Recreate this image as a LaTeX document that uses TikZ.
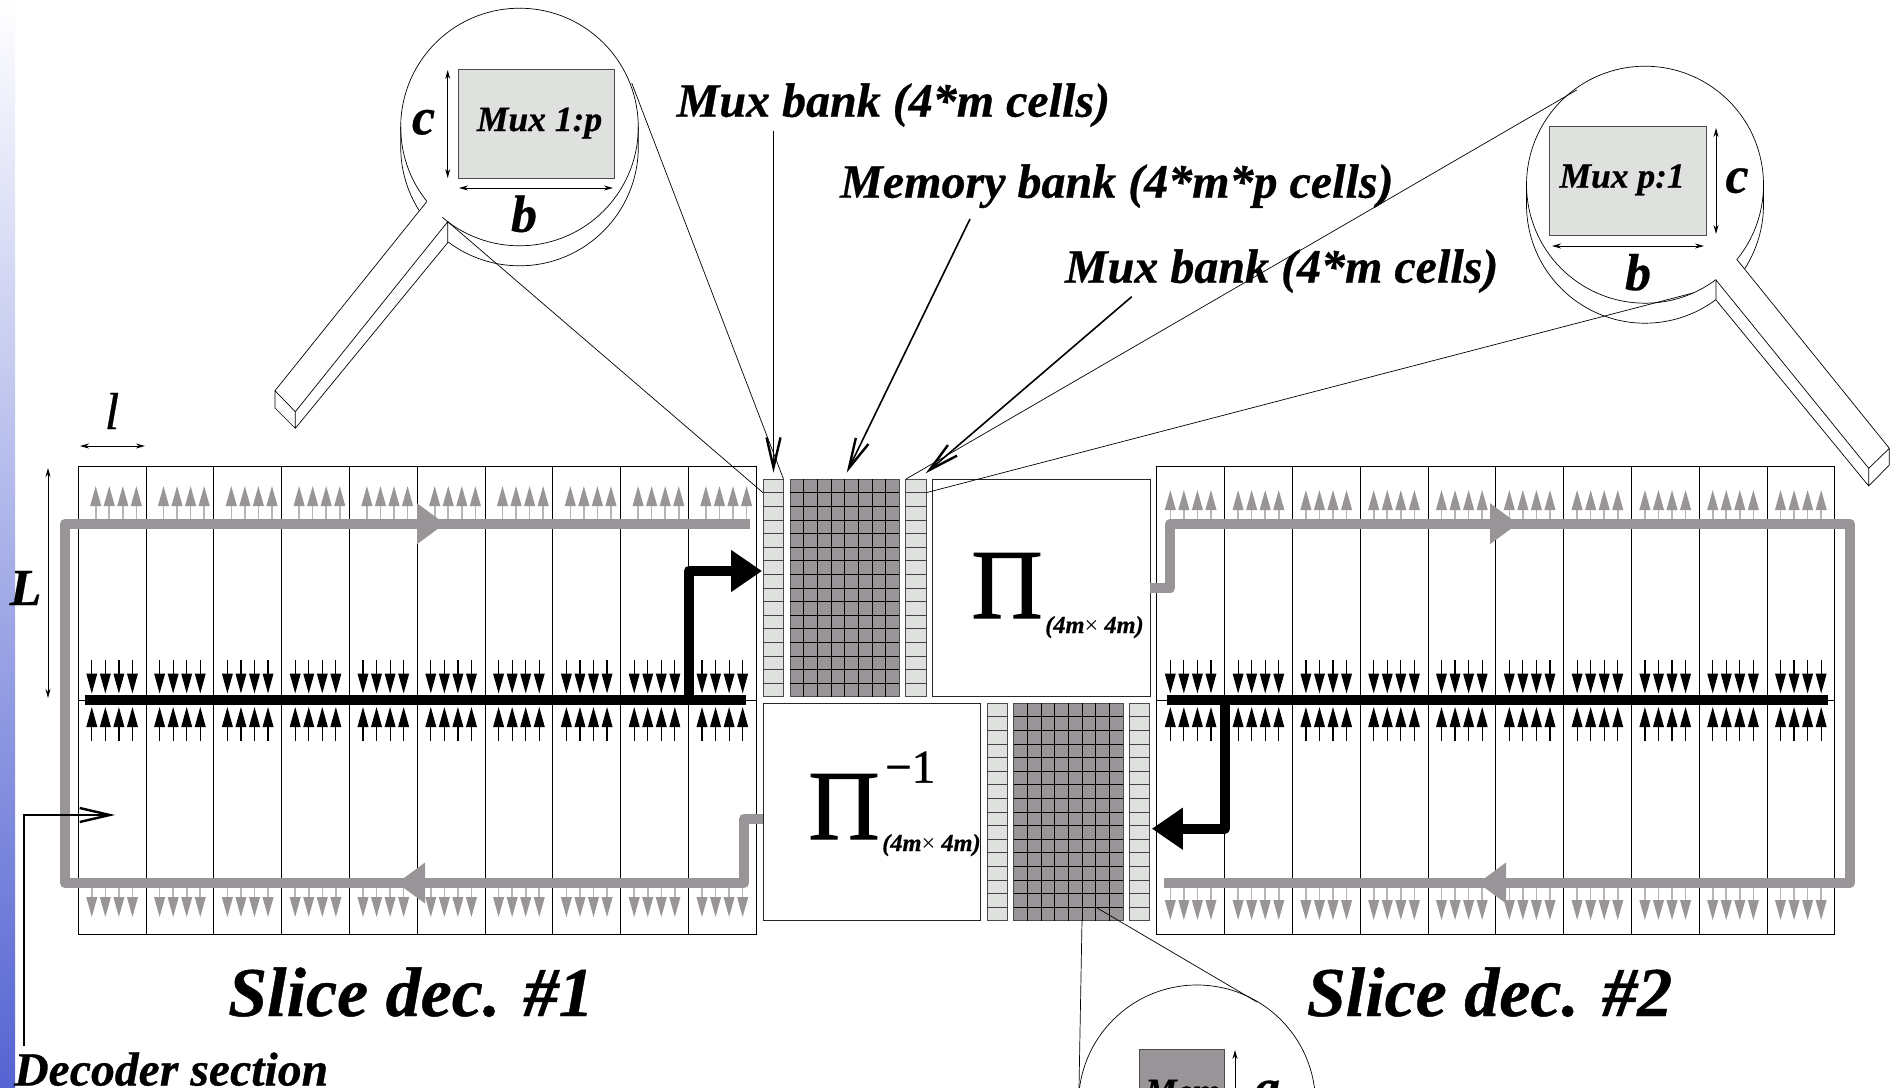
\documentclass[tikz,border=0pt]{standalone}
\usepackage{fontspec}
\setmainfont{Liberation Serif}[BoldItalicFeatures={FakeBold=0.6}]
\usetikzlibrary{arrows.meta}
\definecolor{wiregrey}{RGB}{152,148,152}
\definecolor{muxgrey}{RGB}{223,225,223}
\definecolor{stripblue}{RGB}{85,100,210}
\tikzset{
  lbl/.style       = {font=\bfseries\itshape\fontsize{#1}{#1}\selectfont,
                      inner sep=0pt, anchor=base west},
  sym/.style       = {font=\bfseries\itshape\fontsize{#1}{#1}\selectfont,
                      inner sep=0pt, anchor=base},
  plain/.style     = {font=\fontsize{#1}{#1}\selectfont\addfontfeature{FakeBold=1},
                      inner sep=0pt, anchor=base west},
  slicebox/.style  = {shape=rectangle, draw, line width=1pt, inner sep=0pt, outer sep=0pt,
                      minimum width=678pt, minimum height=468pt},
  bank/.style      = {shape=rectangle, draw=black!70, line width=1pt, inner sep=0pt, outer sep=0pt,
                      minimum height=217.5pt},
  muxbox/.style    = {bank, fill=muxgrey, minimum width=20.5pt},
  membox/.style    = {bank, fill=wiregrey, minimum width=109.3pt},
  permbox/.style   = {bank, draw=black!85, minimum width=217.5pt},
  zoombox/.style   = {shape=rectangle, draw=black!70, line width=1pt, inner sep=0pt, outer sep=0pt,
                      minimum width=156pt, minimum height=109pt},
  thin line/.style = {line width=0.7pt},
  leader/.style    = {line width=1.6pt, -{Straight Barb[length=30pt,width=14pt,line width=2.4pt]}},
  dim/.style       = {line width=1pt, {Stealth[length=9pt,width=5pt]}-{Stealth[length=9pt,width=5pt]}},
  greywire/.style  = {draw=wiregrey, line width=10pt, line join=round},
  blackwire/.style = {draw=black, line width=10pt, line join=round}
}
\begin{document}
\begin{tikzpicture}
  [
    x = 1pt,
    y = -1pt
  ]
 \useasboundingbox (0,0) rectangle (1897,1087);
 \clip (0,0) rectangle (1897,1087);
 \shade [top color=white, bottom color=stripblue] (0,0) rectangle (15,1087);

 % slices
 \node [slicebox] (sliceA) at (417.3,700) {};
 \node [slicebox] (sliceB) at (1495.8,700) {};
 \foreach \left in {78.3,1156.8}
   \foreach \cell in {1,...,9}
     \draw [line width=1pt] ({\left+\cell*67.8},466) -- ({\left+\cell*67.8},934);
 \draw [thin line] (sliceA.west) -- (sliceA.east);
 \draw [thin line] (sliceB.west) -- (sliceB.east);

 % small arrows
 \foreach \left/\shift/\top/\low in {78.3/17.4/486/917, 1156.8/13.5/490/920}
   \foreach \cell in {0,...,9}
     \foreach \k in {0,1,2,3} {
       \pgfmathsetmacro\ax{\left+\cell*67.8+13.5+\k*13.55}
       \pgfmathsetmacro\tx{\left+\cell*67.8+\shift+\k*13.55}
       \draw [wiregrey!70, line width=1.6pt, -{Triangle[length=20pt,width=10.7pt,wiregrey]}]
         (\tx,520) -- (\tx,\top);
       \draw [wiregrey!70, line width=1.6pt, -{Triangle[length=20pt,width=10.7pt,wiregrey]}]
         (\ax,888) -- (\ax,\low);
       \draw [line width=1.2pt, -{Triangle[length=20pt,width=10.7pt]}] (\ax,660) -- (\ax,693.5);
       \draw [line width=1.2pt, -{Triangle[length=20pt,width=10.7pt]}] (\ax,740.5) -- (\ax,707);
     }

 % banks
 \foreach \name/\cx/\cy in {muxA/773.3/588, muxB/915.9/588, muxC/997.3/812, muxD/1139.6/812} {
   \node [muxbox] (\name) at (\cx,\cy) {};
   \foreach \row in {1,...,15}
     \draw [line width=1pt, black!75] ({\cx-10.25},{\cy-108.75+\row*13.6}) -- ({\cx+10.25},{\cy-108.75+\row*13.6});
 }
 \foreach \name/\cx/\cy in {memA/844.7/588, memB/1068.6/812} {
   \node [membox] (\name) at (\cx,\cy) {};
   \foreach \row in {1,...,15}
     \draw [line width=0.9pt] ({\cx-54.65},{\cy-108.75+\row*13.6}) -- ({\cx+54.65},{\cy-108.75+\row*13.6});
   \foreach \col in {1,...,7}
     \draw [line width=0.9pt] ({\cx-54.65+\col*13.66},{\cy-108.75}) -- ({\cx-54.65+\col*13.66},{\cy+108.75});
 }
 \node [permbox] (perm) at (1041.5,588) {};
 \node [permbox] (permi) at (871.8,812) {};

 \node [plain=99] (pisym) at (971,618) {Π};
 \node [lbl=24.4] (pisub) at (1045,633) {(4m\textmd{\textup{×}} 4m)};
 \node [plain=99] (pisymi) at (808,839) {Π};
 \node [plain=47] (piexp) at (885,782.7) {−1};
 \node [lbl=24.4] (pisubi) at (882,851) {(4m\textmd{\textup{×}} 4m)};

 % wires
 \coordinate (greyAin) at (permi.west |- 0,818.7);
 \coordinate (greyBin) at (perm.east |- 0,588);
 \draw [greywire] (749.6,523.7) -- (65,523.7) -- (65,883) -- (744,883) -- (744,818.7) -- (greyAin);
 \draw [greywire] (greyBin) -- (1170.4,588) -- (1170.4,523.7) -- (1850,523.7) -- (1850,883) -- (1164,883);
 \foreach \from/\to/\yy in {400/445/523.7, 440/397/883, 1470/1518/523.7, 1520/1478/883}
   \draw [greywire, -{Triangle[length=28pt,width=39pt,wiregrey]}] (\from,\yy) -- (\to,\yy);
 \draw [blackwire] (85.3,700) -- (746,700);
 \draw [blackwire] (1167,700) -- (1828,700);
 \coordinate (blackAin) at (muxA.west |- 0,571);
 \coordinate (blackBin) at (muxD.east |- 0,828.7);
 \draw [blackwire, -{Triangle[length=31pt,width=40pt]}] (688.6,700) -- (688.6,571) -- ([xshift=-1pt]blackAin);
 \draw [blackwire, -{Triangle[length=31pt,width=40pt]}] (1224.6,700) -- (1224.6,828.7) -- ([xshift=2pt]blackBin);

 % left lens
 \coordinate (lensA) at (519.5,127);
 \coordinate (lensAout) at (631.7,83);
 \coordinate (lensAin) at (447.7,221.7);
 \draw [thin line] (lensA) ++(229.5:118.8pt) arc [start angle=229.5, end angle=578.8, radius=118.8pt];
 \draw [thin line] (400.7,127) -- (400.7,147) arc [start angle=180, end angle=212.2, radius=118.8pt];
 \draw [thin line] (638.3,127) -- (638.3,147) arc [start angle=360, end angle=233.1, radius=118.8pt];
 \draw [thin line] (426.7,201.7) -- (275,390.7) -- (275,408) -- (295.3,428.3) -- (447.7,242.7) -- (lensAin)
   -- (295.3,411.7) -- (275,390.7) (295.3,411.7) -- (295.3,428.3);
 \node [zoombox, fill=muxgrey] (muxzoomA) at (536.3,123.8) {};
 \node [lbl=35.5] (muxtextA) at (476.7,131) {Mux 1:p};
 \node [sym=52] (cA) at (423.5,134.3) {c};
 \node [sym=52] (bA) at (524,231.7) {b};
 \draw [dim] (447.7,70) -- (447.7,178);
 \draw [dim] (459,188) -- (613,188);

 % right lens
 \coordinate (lensB) at (1645,184.7);
 \coordinate (lensBout) at (1576.7,90);
 \coordinate (lensBin) at (1693,293);
 \draw [thin line] (lensB) ++(-39.1:118.5pt) arc [start angle=-39.1, end angle=-53.3+360, radius=118.5pt];
 \draw [thin line] (1763.5,184.7) -- (1763.5,204.7) arc [start angle=0, end angle=-32.8, radius=118.5pt];
 \draw [thin line] (1526.5,184.7) -- (1526.5,204.7) arc [start angle=180, end angle=306.7, radius=118.5pt];
 \draw [thin line] (1736.7,259.3) -- (1889.3,448.3) -- (1889.3,465) -- (1868.7,486) -- (1716,300) -- (1716,280)
   -- (1868.7,468.3) -- (1889.3,448.3) (1868.7,468.3) -- (1868.7,486);
 \node [zoombox, fill=muxgrey, minimum width=157pt] (muxzoomB) at (1627.8,181.2) {};
 \node [lbl=35.5] (muxtextB) at (1559.3,187.7) {Mux p:1};
 \node [sym=52] (cB) at (1737,192.7) {c};
 \node [sym=52] (bB) at (1638,290) {b};
 \draw [dim] (1716,128) -- (1716,234);
 \draw [dim] (1552,246) -- (1704,246);

 % bottom lens
 \coordinate (lensC) at (1197,1103.5);
 \draw [thin line] (lensC) circle [radius=118.5pt];
 \node [zoombox, fill=wiregrey, minimum width=85.3pt, minimum height=100pt] (memzoom) at (1182,1099.3) {};
 \node [lbl=35.5] (memtext) at (1145,1103) {Mem};
 \node [sym=52] (aC) at (1267,1105) {a};
 \draw [line width=1pt, {Stealth[length=9pt,width=5pt]}-] (1235,1050) -- (1235,1100);

 % zoom lines
 \coordinate (muxAcell) at (muxA.north west |- 0,492.7);
 \coordinate (muxBcell) at (muxB.north east |- 0,492.7);
 \draw [thin line] (lensAout) -- (muxA.north east);
 \draw [thin line] (lensAin) -- (muxAcell);
 \draw [thin line] (lensBout) -- (muxB.north west);
 \draw [thin line] (lensBin) -- (muxBcell);
 \coordinate (memcellA) at (1082,920);
 \coordinate (memcellB) at (1096,907.3);
 \draw [thin line] (memcellA) -- (1079,1088);
 \draw [thin line] (memcellB) -- (1257,1002);

 % labels
 \node [lbl=48] (muxlabelA) at (676.5,116.7) {Mux bank (4*m cells)};
 \node [lbl=48] (memlabel) at (840,197.7) {Memory bank (4*m*p cells)};
 \node [lbl=48] (muxlabelB) at (1064.8,282.7) {Mux bank (4*m cells)};
 \coordinate (muxtipA) at (773.5,472.7);
 \coordinate (memtip) at (846.7,472.7);
 \coordinate (muxtipB) at (925.7,473.3);
 \draw [leader] (773.5,130.7) -- (muxtipA);
 \draw [leader] (970,219) -- (memtip);
 \draw [leader] (1131.7,296.7) -- (muxtipB);
 \node [lbl=70] (sliceAlabel) at (228,1016) {Slice dec. \#1};
 \node [lbl=70] (sliceBlabel) at (1306.6,1016) {Slice dec. \#2};
 \node [lbl=47.7] (declabel) at (14,1085.5) {Decoder section};
 \coordinate (dectip) at (115,815);
 \draw [leader] (24,1045.7) -- (24,815) -- (dectip);

 % dimensions
 \node [font=\itshape\fontsize{52}{52}\selectfont\addfontfeature{FakeBold=0.6}, inner sep=0pt, anchor=base] (smallL) at (112,429) {l};
 \draw [dim] (80,446) -- (145,446);
 \node [lbl=52] (bigL) at (9.5,605) {L};
 \draw [dim] (48,468) -- (48,698);
\end{tikzpicture}
\end{document}
